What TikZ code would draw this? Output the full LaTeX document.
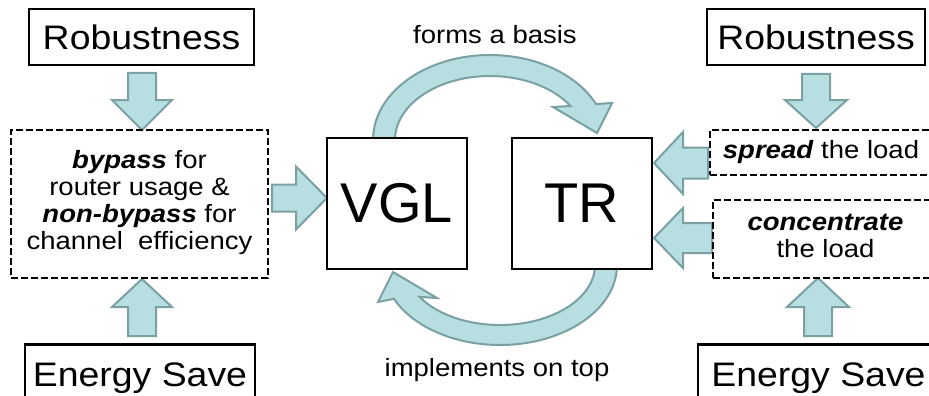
\documentclass[tikz,border=0pt]{standalone}
\usepackage{fontspec}
\setmainfont{Liberation Sans}
\usepackage{graphicx}
\usetikzlibrary{calc}

\definecolor{arrowfill}{RGB}{183,222,225}
\definecolor{arrowline}{RGB}{122,160,162}

\pgfdeclarelayer{back}
\pgfsetlayers{back,main}

% slightly widened lettering
\newcommand\wide[1]{\scalebox{1.1}[1]{#1}}
\newcommand\bigfont{\fontsize{34}{40}\selectfont}
\newcommand\midfont{\fontsize{25}{27}\selectfont}
\newcommand\hugefont{\fontsize{56}{60}\selectfont}

% block arrows: vertical  {x}{y tail}{y head base}{y tip}{half shaft}{half head}
\newcommand\varr[6]{%
  \path[blockarrow] (#1-#5,#2) -- (#1+#5,#2) -- (#1+#5,#3) -- (#1+#6,#3)
    -- (#1,#4) -- (#1-#6,#3) -- (#1-#5,#3) -- cycle;}
% horizontal {y}{x tail}{x head base}{x tip}{half shaft}{half head}
\newcommand\harr[6]{%
  \path[blockarrow] (#2,#1-#5) -- (#2,#1+#5) -- (#3,#1+#5) -- (#3,#1+#6)
    -- (#4,#1) -- (#3,#1-#6) -- (#3,#1-#5) -- cycle;}

\tikzset{
  solidbox/.style={draw=black, line width=2.5pt, fill=white, inner sep=0pt},
  dashbox/.style={draw=black, line width=2pt, dash pattern=on 7pt off 3pt,
    fill=white, inner sep=0pt, align=center},
  blockarrow/.style={fill=arrowfill, draw=arrowline, line width=2pt},
  plainlabel/.style={inner sep=0pt}
}

\begin{document}
\begin{tikzpicture}[x=1pt,y=-1pt]
\useasboundingbox (0,0) rectangle (929,396);
\clip (0,0) rectangle (929,396);

% ---- left column
\node[solidbox, minimum width=225pt, minimum height=56pt] (robL) at (141.5,37)
  {\bigfont\wide{Robustness}};
\node[dashbox, minimum width=257pt, minimum height=148pt] (dashL) at (139.5,204)
  {\midfont\wide{\begin{tabular}{@{}c@{}}
    \textbf{\textit{bypass}} for\\
    router usage \&\\
    \textbf{\textit{non-bypass}} for\\
    channel\ \ efficiency
  \end{tabular}}};
\node[solidbox, anchor=north, minimum width=230pt, text height=42pt,
  text depth=40pt] (engL) at (140,343) {\bigfont\wide{Energy Save}};

% ---- centre
\node[solidbox, minimum width=140pt, minimum height=131pt] (vgl) at (397,203.5)
  {\hugefont VGL};
\node[solidbox, minimum width=140pt, minimum height=131pt] (tr) at (582,203.5)
  {\hugefont TR};
\node[plainlabel] (basis) at (495,35) {\midfont\wide{forms a basis}};
\node[plainlabel] (impl) at (497,370.5) {\midfont\wide{implements on top}};

% ---- right column
\node[solidbox, minimum width=218pt, minimum height=56pt] (robR) at (816,37)
  {\bigfont\wide{Robustness}};
\node[dashbox, minimum width=222pt, minimum height=45pt] (spread) at (821,152.5)
  {\midfont\wide{\textbf{\textit{spread}} the load}};
\node[dashbox, minimum width=225pt, minimum height=78pt] (conc) at (825.5,239)
  {\midfont\wide{\begin{tabular}{@{}c@{}}
    \textbf{\textit{concentrate}}\\
    the load
  \end{tabular}}};
\node[solidbox, anchor=north, minimum width=241pt, text height=42pt,
  text depth=40pt] (engR) at (818.5,343) {\bigfont\wide{Energy Save}};

% ---- arrows, behind the boxes
\begin{pgfonlayer}{back}
  \varr{142}{73}{100}{130}{14}{30}
  \varr{142}{336}{307}{279}{14}{30}
  \harr{198}{272}{296}{327}{13.5}{31.5}
  \varr{816}{74}{100}{128}{14}{31}
  \varr{818}{336}{307}{278}{14}{31}
  \harr{163}{708}{683}{654}{15.5}{31}
  \harr{238}{712}{683}{654}{15}{30}

  % VGL -> TR, over the top
  \path[blockarrow] (373,140)
    arc[start angle=180, end angle=25, x radius=117pt, y radius=85pt]
    -- (612,103) -- (597,133) -- (553,107) -- (570.45,106.0)
    arc[start angle=32.1, end angle=180, x radius=95pt, y radius=64pt]
    -- cycle;
  % TR -> VGL, underneath
  \path[blockarrow] (617,265)
    arc[start angle=0, end angle=-155, x radius=117pt, y radius=80pt]
    -- (378,302) -- (393,272) -- (437,298) -- (419.55,296.9)
    arc[start angle=-147.9, end angle=0, x radius=95pt, y radius=60pt]
    -- cycle;
\end{pgfonlayer}
\end{tikzpicture}
\end{document}
